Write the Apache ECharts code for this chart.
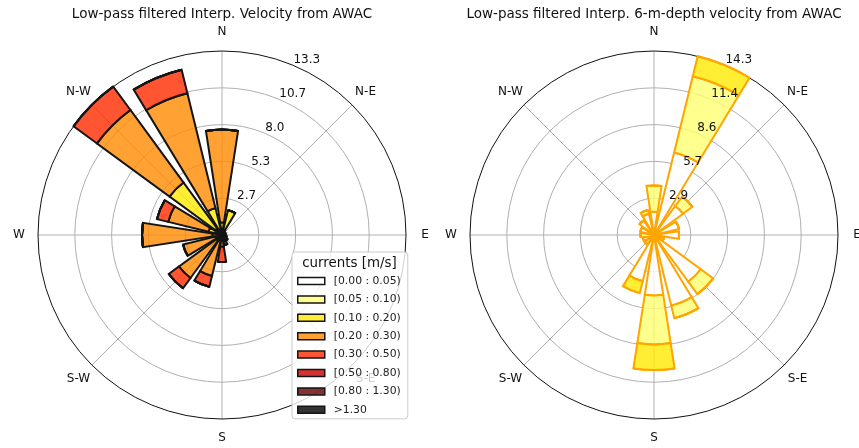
<!DOCTYPE html>
<html>
<head>
<meta charset="utf-8">
<script src="https://cdn.jsdelivr.net/npm/echarts@6/dist/echarts.min.js"></script>
<style>
  html, body { margin: 0; padding: 0; background: #ffffff; }
  #chart { width: 859px; height: 448px; }
</style>
</head>
<body>
<div id="chart"></div>
<script>
// Sixteen compass sectors, clockwise from north
const directions = ['N', 'NNE', 'N-E', 'ENE', 'E', 'ESE', 'S-E', 'SSE',
                    'S', 'SSW', 'S-W', 'WSW', 'W', 'WNW', 'N-W', 'NNW'];

// Speed classes and their colours (hot_r, alpha 0.8)
const speedBins = ['[0.00 : 0.05)', '[0.05 : 0.10)', '[0.10 : 0.20)', '[0.20 : 0.30)',
                   '[0.30 : 0.50)', '[0.50 : 0.80)', '[0.80 : 1.30)', '>1.30'];
const binColors = ['rgba(255,255,255,0.8)', 'rgba(255,255,112,0.8)', 'rgba(255,234,0,0.8)',
                   'rgba(255,138,0,0.8)', 'rgba(255,42,0,0.8)', 'rgba(200,0,0,0.8)',
                   'rgba(100,0,0,0.8)', 'rgba(0,0,0,0.8)'];

// Interp. velocity: frequency per sector for each speed class
const velBin0 = [0.1, 0.1, 0.05, 0.05, 0.05, 0.05, 0.05, 0.05, 0.05, 0.05, 0.05, 0.05, 0.05, 0.05, 0.1, 0.1];
const velBin1 = [0.2, 0.3, 0.1, 0.1, 0.1, 0.1, 0.1, 0.1, 0.1, 0.1, 0.1, 0.1, 0.15, 0.15, 0.5, 0.3];
const velBin2 = [0.6, 1.45, 0.15, 0.1, 0.1, 0.1, 0.15, 0.2, 0.2, 0.3, 0.35, 0.35, 0.5, 0.8, 4.1, 1.6];
const velBin3 = [6.7, 0, 0, 0, 0, 0.1, 0.2, 0.4, 0.5, 2.6, 3.35, 2.4, 5.08, 3.0, 6.5, 8.55];
const velBin4 = [0, 0, 0, 0, 0, 0, 0, 0, 1.1, 0.8, 0.92, 0, 0, 0.84, 2.1, 1.75];
const velBin5 = [0, 0, 0, 0, 0, 0, 0, 0, 0, 0, 0, 0, 0, 0, 0, 0];
const velBin6 = [0, 0, 0, 0, 0, 0, 0, 0, 0, 0, 0, 0, 0, 0, 0, 0];
const velBin7 = [0, 0, 0, 0, 0, 0, 0, 0, 0, 0, 0, 0, 0, 0, 0, 0];

// 6-m-depth velocity: frequency per sector for each speed class
const deepBin0 = [1.8, 6.6, 2.8, 2.0, 1.95, 0.8, 4.5, 5.65, 4.7, 3.7, 0.9, 0.9, 1.05, 1.1, 1.4, 1.7];
const deepBin1 = [2.05, 6.1, 0.9, 0, 0, 0, 1.2, 1.0, 3.8, 0, 0, 0, 0, 0, 0, 0.3];
const deepBin2 = [0, 1.6, 0, 0, 0, 0, 0, 0, 2.0, 0.95, 0, 0, 0, 0, 0, 0];
const deepBin3 = [0, 0, 0, 0, 0, 0, 0, 0, 0, 0, 0, 0, 0, 0, 0, 0];

// Radial scale of each rose and its ring labels
const velMax = 13.3;
const velRingLabels = ['2.7', '5.3', '8.0', '10.7', '13.3'];
const deepMax = 14.3;
const deepRingLabels = ['2.9', '5.7', '8.6', '11.4', '14.3'];

const titles = ['Low-pass filtered Interp. Velocity from AWAC',
                'Low-pass filtered Interp. 6-m-depth velocity from AWAC'];

const FONT = 'DejaVu Sans';
const GRID = '#b0b0b0';
const velBins = [velBin0, velBin1, velBin2, velBin3, velBin4, velBin5, velBin6, velBin7];
const deepBins = [deepBin0, deepBin1, deepBin2, deepBin3];

const centers = [[222, 235], [654, 235]];
const R = 184;

// Polar 0/1 carry the bars (category sectors); polar 2/3 carry the full-circle grid
function barAngleAxis(polarIndex) {
  return {
    polarIndex: polarIndex, type: 'category', data: directions,
    boundaryGap: false, startAngle: 90, clockwise: true,
    axisLine: { show: false }, axisTick: { show: false },
    axisLabel: { show: false }, splitLine: { show: false }
  };
}
function barRadiusAxis(polarIndex, max) {
  return {
    polarIndex: polarIndex, type: 'value', min: 0, max: max,
    axisLine: { show: false }, axisTick: { show: false },
    axisLabel: { show: false }, splitLine: { show: false }
  };
}
function gridAngleAxis(polarIndex) {
  return {
    polarIndex: polarIndex, type: 'value', min: 0, max: 360, interval: 45,
    startAngle: 90, clockwise: true,
    axisLine: { show: true, lineStyle: { color: '#111111', width: 1 } },
    axisTick: { show: false }, axisLabel: { show: false },
    splitLine: { show: true, lineStyle: { color: GRID, width: 1 } }
  };
}
function gridRadiusAxis(polarIndex, max) {
  return {
    polarIndex: polarIndex, type: 'value', min: 0, max: max, interval: max / 5,
    axisLine: { show: false }, axisTick: { show: false }, axisLabel: { show: false },
    splitLine: { show: true, lineStyle: { color: [GRID, GRID, GRID, GRID, GRID, 'rgba(0,0,0,0)'], width: 1 } }
  };
}

const series = [];
velBins.forEach(function (values, i) {
  series.push({
    type: 'bar', coordinateSystem: 'polar', polarIndex: 0,
    name: speedBins[i], stack: 'vel', data: values,
    barCategoryGap: '22%',
    itemStyle: { color: binColors[i], borderColor: '#151515', borderWidth: 2 }
  });
});
deepBins.forEach(function (values, i) {
  series.push({
    type: 'bar', coordinateSystem: 'polar', polarIndex: 1,
    name: 'depth ' + speedBins[i], stack: 'deep', data: values,
    barCategoryGap: '22%',
    itemStyle: { color: binColors[i], borderColor: '#ffa500', borderWidth: 2 }
  });
});

const chart = echarts.init(document.getElementById('chart'), null, { renderer: 'canvas' });

chart.setOption({
  backgroundColor: '#ffffff',
  animation: false,
  title: [
    { text: titles[0], left: 222, top: 7, textAlign: 'center', padding: 0,
      textStyle: { fontSize: 13.5, fontWeight: 'normal', fontFamily: FONT, color: '#111111' } },
    { text: titles[1], left: 654, top: 7, textAlign: 'center', padding: 0,
      textStyle: { fontSize: 13.5, fontWeight: 'normal', fontFamily: FONT, color: '#111111' } },
    { text: 'currents [m/s]', left: 349.5, top: 257, textAlign: 'center', padding: 0, z: 10,
      textStyle: { fontSize: 13.4, fontWeight: 'normal', fontFamily: FONT, color: '#111111' } }
  ],
  polar: [
    { center: centers[0], radius: R },
    { center: centers[1], radius: R },
    { center: centers[0], radius: R },
    { center: centers[1], radius: R }
  ],
  angleAxis: [barAngleAxis(0), barAngleAxis(1), gridAngleAxis(2), gridAngleAxis(3)],
  radiusAxis: [barRadiusAxis(0, velMax), barRadiusAxis(1, deepMax),
               gridRadiusAxis(2, velMax), gridRadiusAxis(3, deepMax)],
  legend: {
    data: speedBins,
    orient: 'vertical',
    left: 292,
    top: 252,
    z: 8,
    padding: [23, 7, 3, 5],
    itemWidth: 27,
    itemHeight: 7,
    itemGap: 6.4,
    icon: 'rect',
    backgroundColor: 'rgba(255,255,255,0.8)',
    borderColor: '#cccccc',
    borderWidth: 1,
    borderRadius: 3,
    itemStyle: { borderColor: '#151515', borderWidth: 1.5 },
    selectedMode: false,
    textStyle: { fontSize: 10.8, fontFamily: FONT, color: '#222222', lineHeight: 12, padding: [0, 0, 0, 4] }
  },
  series: series
});

// Ring value labels along the 22.5 degree bearing, placed with the polar scale
function ringLabels(polarIndex, max, labels) {
  return labels.map(function (text, k) {
    const p = chart.convertToPixel({ polarIndex: polarIndex }, [max * (k + 1) / 5, 1]);
    return {
      type: 'text', x: p[0] + 1, y: p[1] + 1, z: 5,
      style: { text: text, fill: '#111111', font: '12px "DejaVu Sans"',
               textAlign: 'left', textVerticalAlign: 'bottom', align: 'left', verticalAlign: 'bottom' }
    };
  });
}

// Compass labels on every second sector, centred just outside the frame
function compassLabels(polarIndex, max) {
  const out = [];
  for (let i = 0; i < directions.length; i += 2) {
    const p = chart.convertToPixel({ polarIndex: polarIndex }, [max * 203 / 184, i]);
    out.push({
      type: 'text', x: p[0], y: p[1], z: 1,
      style: { text: directions[i], fill: '#111111', font: '12px "DejaVu Sans"',
               textAlign: 'center', textVerticalAlign: 'middle', align: 'center', verticalAlign: 'middle' }
    });
  }
  return out;
}

chart.setOption({
  graphic: {
    z: 1,
    elements: ringLabels(0, velMax, velRingLabels)
      .concat(ringLabels(1, deepMax, deepRingLabels))
      .concat(compassLabels(0, velMax))
      .concat(compassLabels(1, deepMax))
  }
});
</script>
</body>
</html>
